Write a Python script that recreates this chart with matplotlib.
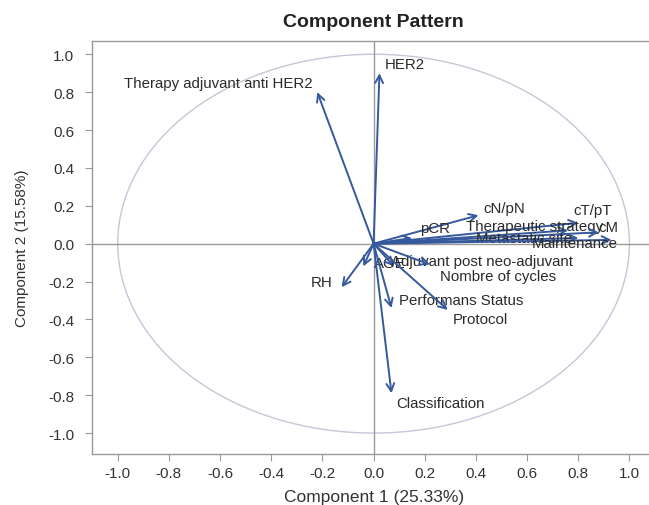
import matplotlib
matplotlib.use("Agg")
import matplotlib.pyplot as plt
import numpy as np

# loadings (component 1, component 2)
variables = ["HER2", "Therapy adjuvant anti HER2", "cN/pN", "pCR",
             "cT/pT", "Therapeutic strategy", "cM", "Metastatic site", "Maintenance",
             "RH", "AGE", "Adjuvant post neo-adjuvant", "Nombre of cycles",
             "Performans Status", "Protocol", "Classification"]
comp1 = [0.023, -0.22, 0.41, 0.15, 0.80, 0.76, 0.88, 0.80, 0.93,
         -0.125, -0.04, 0.08, 0.22, 0.07, 0.29, 0.07]
comp2 = [0.90, 0.80, 0.15, 0.03, 0.11, 0.07, 0.06, 0.03, 0.02,
         -0.23, -0.12, -0.12, -0.11, -0.34, -0.35, -0.79]

# label anchor positions (left/right edge, vertical centre)
lab_x = [0.045, -0.24, 0.43, 0.18, 0.78, 0.36, 0.88, 0.40, 0.62,
         -0.16, 0.0, 0.07, 0.26, 0.10, 0.31, 0.09]
lab_y = [0.95, 0.85, 0.19, 0.084, 0.18, 0.095, 0.09, 0.03, 0.005,
         -0.20, -0.10, -0.09, -0.17, -0.30, -0.40, -0.84]
lab_ha = ["left", "right", "left", "left", "left", "left", "left", "left", "left",
          "right", "left", "left", "left", "left", "left", "left"]

ticks = [-1.0, -0.8, -0.6, -0.4, -0.2, 0.0, 0.2, 0.4, 0.6, 0.8, 1.0]

plt.rcParams['font.family'] = ['Liberation Sans', 'DejaVu Sans']

fig = plt.figure(figsize=(6.49, 5.06), dpi=100)
ax = fig.add_axes([0.142, 0.101, 0.87, 0.816])

arrow_col = "#35599c"
grey = "#9a9a9a"

circ = plt.Circle((0, 0), 1.0, fill=False, color="#c3c8d8", lw=1.0)
ax.add_patch(circ)
ax.axhline(0, color=grey, lw=1.0, zorder=1)
ax.axvline(0, color=grey, lw=1.0, zorder=1)

for i in range(len(variables)):
    ax.annotate("", xy=(comp1[i], comp2[i]), xytext=(0, 0),
                arrowprops=dict(arrowstyle="->,head_length=0.55,head_width=0.28",
                                color=arrow_col, lw=1.4, shrinkA=0, shrinkB=0))
    ax.text(lab_x[i], lab_y[i], variables[i], ha=lab_ha[i], va="center",
            fontsize=10.8, color="#2a2a2a")

ax.set_xlim(-1.10, 1.107)
ax.set_ylim(-1.11, 1.07)
ax.set_xticks(ticks)
ax.set_yticks(ticks)
ax.set_xticklabels(["%.1f" % t for t in ticks])
ax.set_yticklabels(["%.1f" % t for t in ticks])
ax.tick_params(colors="#333333", labelsize=11, length=5, width=0.8)
ax.tick_params(axis="both", color=grey)
ax.tick_params(axis="y", pad=8)
for s in ax.spines.values():
    s.set_color(grey)
    s.set_linewidth(1.0)

ax.set_xlabel("Component 1 (25.33%)", fontsize=12.5, color="#333333", labelpad=7)
ax.set_ylabel("Component 2 (15.58%)", fontsize=11, color="#333333", labelpad=14)
fig.text(0.575, 0.955, "Component Pattern", ha="center", va="center",
         fontsize=14, fontweight="bold", color="#222222")

fig.savefig("out.png", dpi=100)
